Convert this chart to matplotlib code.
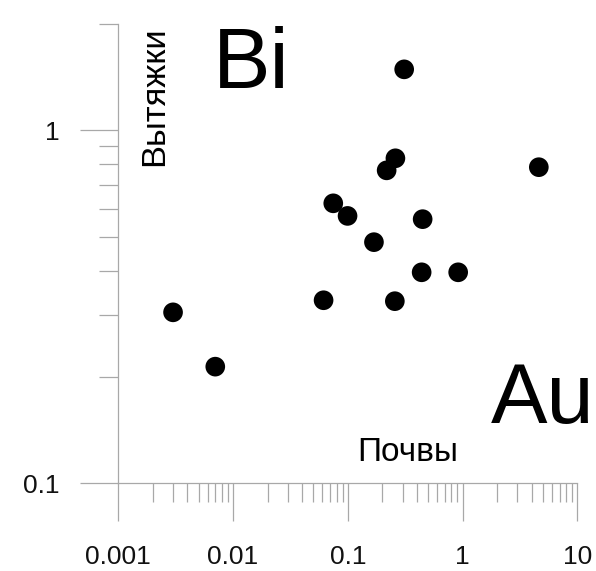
import matplotlib
matplotlib.use("Agg")
import matplotlib.pyplot as plt
from matplotlib.ticker import FixedLocator, FixedFormatter, LogLocator, NullFormatter

plt.rcParams['font.family'] = ['Liberation Sans', 'DejaVu Sans']

# Data: Au (soils, x) vs Bi (extracts, y)
soil = [0.003, 0.007, 0.31, 0.26, 0.218, 4.62, 0.0747, 0.0995, 0.449, 0.169, 0.44, 0.916, 0.0615, 0.257]
extract = [0.305, 0.214, 1.488, 0.833, 0.77, 0.786, 0.621, 0.572, 0.56, 0.482, 0.396, 0.396, 0.330, 0.328]

x_ticks = [0.001, 0.01, 0.1, 1, 10]
x_labels = ['0.001', '0.01', '0.1', '1', '10']
y_ticks = [0.1, 1]
y_labels = ['0.1', '1']

W, H = 596, 571
fig = plt.figure(figsize=(W / 100, H / 100), dpi=100)
ax = fig.add_axes([118.3 / W, 1 - 483.3 / H, (577.3 - 118.3) / W, (483.3 - 24) / H])

ax.scatter(soil, extract, s=200, color='black', edgecolors='none', zorder=3, clip_on=False)

ax.set_xscale('log')
ax.set_yscale('log')
ax.set_xlim(0.001, 10)
ax.set_ylim(0.1, 2.0)

for s in ['top', 'right']:
    ax.spines[s].set_visible(False)
gray = '#a8a8a8'
for s in ['left', 'bottom']:
    ax.spines[s].set_color(gray)
    ax.spines[s].set_linewidth(0.9)

ax.xaxis.set_major_locator(FixedLocator(x_ticks))
ax.xaxis.set_major_formatter(FixedFormatter(x_labels))
ax.yaxis.set_major_locator(FixedLocator(y_ticks))
ax.yaxis.set_major_formatter(FixedFormatter(y_labels))
ax.xaxis.set_minor_locator(LogLocator(base=10, subs=range(2, 10)))
ax.yaxis.set_minor_locator(LogLocator(base=10, subs=range(2, 10)))
ax.xaxis.set_minor_formatter(NullFormatter())
ax.yaxis.set_minor_formatter(NullFormatter())

ax.tick_params(which='major', direction='out', length=27.4, width=0.9, color=gray,
               labelsize=19, labelcolor='#111111')
ax.tick_params(which='minor', direction='out', length=14, width=0.9, color=gray)
ax.tick_params(axis='x', which='major', pad=17)
ax.tick_params(axis='y', which='major', pad=15)

fig.text(213 / W, 1 - 88.3 / H, 'Bi', fontsize=62, ha='left', va='baseline', color='black')
fig.text(491 / W, 1 - 422.5 / H, 'Au', fontsize=61, ha='left', va='baseline', color='black')
fig.text(357.5 / W, 1 - 461 / H, 'Почвы', fontsize=24, ha='left', va='baseline', color='black')
fig.text(163 / W, 1 - 166 / H, 'Вытяжки', fontsize=24.8, rotation=90, rotation_mode='anchor',
         ha='left', va='baseline', color='black')

fig.savefig('out.png', dpi=100, facecolor='white')
